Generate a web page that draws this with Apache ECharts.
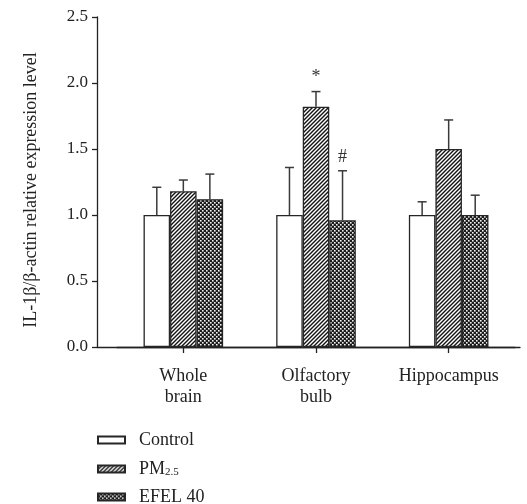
<!DOCTYPE html>
<html>
<head>
<meta charset="utf-8">
<script src="https://cdn.jsdelivr.net/npm/echarts@6/dist/echarts.min.js"></script>
<style>
html,body{margin:0;padding:0;background:#fff;}
#chart{width:527px;height:504px;}
</style>
</head>
<body>
<div id="chart"></div>
<script>
// ---- data ----
const categories = ['Whole\nbrain', 'Olfactory\nbulb', 'Hippocampus'];
const seriesNames = ['Control', 'PM2.5', 'EFEL 40'];
const controlMean = [1.00, 1.00, 1.00];
const controlErr  = [0.21, 0.36, 0.10];
const pmMean      = [1.18, 1.82, 1.50];
const pmErr       = [0.085, 0.115, 0.22];
const efelMean    = [1.12, 0.96, 1.00];
const efelErr     = [0.19, 0.375, 0.15];
const pmMarks     = ['', '*', ''];
const efelMarks   = ['', '#', ''];
const controlMarks = ['', '', ''];
const yTicks = [0, 0.5, 1.0, 1.5, 2.0, 2.5];

// ---- patterns ----
function hatchPattern() {
  const c = document.createElement('canvas');
  c.width = 4; c.height = 4;
  const g = c.getContext('2d');
  g.fillStyle = '#fff'; g.fillRect(0, 0, 4, 4);
  g.strokeStyle = '#111'; g.lineWidth = 1.4;
  g.beginPath();
  g.moveTo(-1, 5); g.lineTo(5, -1);
  g.moveTo(-3, 3); g.lineTo(3, -3);
  g.moveTo(1, 7); g.lineTo(7, 1);
  g.stroke();
  return c;
}
function checkPattern() {
  const c = document.createElement('canvas');
  c.width = 4; c.height = 4;
  const g = c.getContext('2d');
  g.fillStyle = '#1c1c1c'; g.fillRect(0, 0, 4, 4);
  g.fillStyle = '#f4f4f4';
  g.fillRect(0, 0, 1.6, 1.6);
  g.fillRect(2, 2, 1.6, 1.6);
  return c;
}
const fills = [
  '#ffffff',
  { image: hatchPattern(), repeat: 'repeat' },
  { image: checkPattern(), repeat: 'repeat' }
];
const means = [controlMean, pmMean, efelMean];
const errs = [controlErr, pmErr, efelErr];
const marks = [controlMarks, pmMarks, efelMarks];

const FONT = '"Liberation Serif", "Times New Roman", serif';
const GAP_FRAC = 0.4;

const series = [];
seriesNames.forEach((name, k) => {
  series.push({
    name: name,
    type: 'bar',
    xAxisIndex: 0, yAxisIndex: 0,
    data: means[k],
    barGap: '0%',
    barCategoryGap: (GAP_FRAC * 100) + '%',
    itemStyle: { color: fills[k], borderColor: '#262626', borderWidth: 1.3 },
    emphasis: { disabled: true },
    z: 2
  });
});
seriesNames.forEach((name, k) => {
  series.push({
    type: 'custom',
    xAxisIndex: 0, yAxisIndex: 0,
    data: means[k].map((m, i) => [i, m, errs[k][i]]),
    z: 3,
    silent: true,
    renderItem: function (params, api) {
      const ci = api.value(0), m = api.value(1), e = api.value(2);
      const band = api.size([1, 0])[0];
      const bw = band * (1 - GAP_FRAC) / 3;
      const cx = api.coord([ci, 0])[0] + (k - 1) * bw;
      const y0 = api.coord([ci, m])[1];
      const y1 = api.coord([ci, m + e])[1];
      const st = { stroke: '#3a3a3a', lineWidth: 1.5 };
      const children = [
        { type: 'line', shape: { x1: cx, y1: y0, x2: cx, y2: y1 }, style: st },
        { type: 'line', shape: { x1: cx - 4.5, y1: y1, x2: cx + 4.5, y2: y1 }, style: st }
      ];
      const t = marks[k][ci];
      if (t) {
        children.push({
          type: 'text',
          style: { text: t, x: cx, y: y1 - 14, align: 'center', verticalAlign: 'middle',
                   font: '18px ' + FONT, fill: '#333' }
        });
      }
      return { type: 'group', children: children };
    }
  });
});

const chart = echarts.init(document.getElementById('chart'), null, { renderer: 'canvas' });
chart.setOption({
  animation: false,
  backgroundColor: '#fff',
  textStyle: { fontFamily: FONT, color: '#222' },
  grid: [
    { left: 117, right: 12, top: 17, bottom: 157 },
    { left: 97, right: 7, top: 17, bottom: 157 }
  ],
  legend: {
    orient: 'vertical',
    left: 97, top: 431,
    width: 200, height: 150,
    padding: 0,
    itemWidth: 27, itemHeight: 7,
    itemGap: 10,
    icon: 'rect',
    selectedMode: false,
    data: seriesNames,
    formatter: function (n) { return n === 'PM2.5' ? '{a|PM}{s|2.5}' : '{a|' + n + '}'; },
    textStyle: {
      fontFamily: FONT, fontSize: 18, color: '#222', padding: [0, 0, 0, 9],
      rich: {
        a: { fontFamily: FONT, fontSize: 18, color: '#222', lineHeight: 18 },
        s: { fontFamily: FONT, fontSize: 11, color: '#222', lineHeight: 18, verticalAlign: 'bottom', padding: [8, 0, 0, 0] }
      }
    }
  },
  xAxis: [
    {
      type: 'category', gridIndex: 0, data: categories,
      axisLine: { show: true, lineStyle: { color: '#222', width: 1.3 } },
      axisTick: { show: true, alignWithLabel: true, length: 6, lineStyle: { color: '#222', width: 1.3 } },
      axisLabel: { fontFamily: FONT, fontSize: 18, color: '#222', margin: 19, lineHeight: 21 },
      splitLine: { show: false }
    },
    {
      type: 'value', gridIndex: 1, min: 0, max: 1,
      axisLine: { show: true, lineStyle: { color: '#222', width: 1.3 } },
      axisTick: { show: false }, axisLabel: { show: false }, splitLine: { show: false }
    }
  ],
  yAxis: [
    {
      type: 'value', gridIndex: 0, min: 0, max: 2.5, interval: 0.5,
      offset: 20,
      name: 'IL-1β/β-actin relative expression level',
      nameLocation: 'middle', nameGap: 57, nameRotate: 90,
      nameTextStyle: { fontFamily: FONT, fontSize: 18, color: '#222', padding: [0, 16, 0, 0] },
      axisLine: { show: true, lineStyle: { color: '#222', width: 1.3 } },
      axisTick: { show: true, length: 5, lineStyle: { color: '#222', width: 1.3 } },
      axisLabel: { fontFamily: FONT, fontSize: 17, color: '#222', margin: 9,
                   formatter: v => v.toFixed(1) },
      splitLine: { show: false }
    },
    {
      type: 'value', gridIndex: 1, min: 0, max: 1, show: false
    }
  ],
  series: series
});
</script>
</body>
</html>
